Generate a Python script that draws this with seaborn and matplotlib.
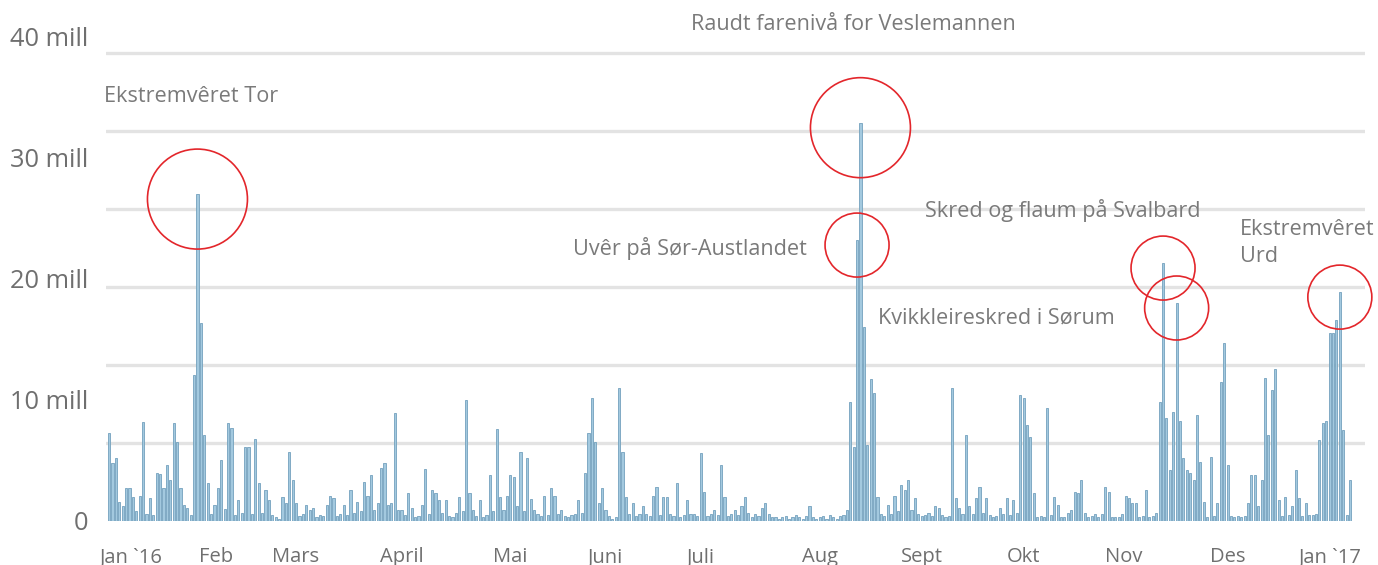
import numpy as np
import pandas as pd
import seaborn as sns
import matplotlib.pyplot as plt

# daily views in million, one bar per day from 1 Jan 2016
daily_views = [
    7.3, 4.8, 5.2, 1.6, 1.2, 2.7, 2.7, 2.0, 0.8, 2.1,      # 0
    8.2, 0.6, 1.9, 0.5, 4.0, 3.9, 2.7, 4.6, 3.4, 8.1,      # 10
    6.5, 2.7, 1.3, 1.1, 0.5, 12.1, 27.0, 16.4, 7.1, 3.1,   # 20
    0.6, 1.3, 2.7, 5.0, 1.0, 8.1, 7.7, 0.5, 1.7, 0.7,      # 30
    6.1, 6.1, 0.6, 6.8, 3.1, 0.7, 2.6, 1.7, 0.5, 0.3,      # 40
    0.2, 2.0, 1.5, 5.7, 3.4, 1.5, 0.4, 0.6, 1.3, 0.9,      # 50
    1.1, 0.3, 0.5, 0.4, 1.3, 2.1, 1.9, 0.4, 0.6, 1.3,      # 60
    0.5, 2.6, 0.7, 1.6, 0.8, 3.2, 2.1, 3.8, 0.9, 1.5,      # 70
    4.4, 4.8, 1.3, 1.5, 8.9, 0.9, 0.9, 0.5, 2.3, 1.1,      # 80
    0.3, 0.4, 1.3, 4.3, 0.6, 2.6, 2.3, 1.7, 0.7, 1.7,      # 90
    0.4, 0.3, 0.7, 2.0, 0.8, 10.0, 2.3, 0.9, 0.4, 1.7,     # 100
    0.3, 0.5, 3.8, 0.8, 7.6, 2.0, 0.9, 2.1, 3.8, 3.6,      # 110
    1.2, 5.7, 0.8, 5.2, 1.8, 0.9, 0.6, 0.4, 2.1, 0.5,      # 120
    2.7, 2.1, 0.6, 0.9, 0.4, 0.3, 0.5, 0.6, 1.7, 0.7,      # 130
    4.0, 7.3, 10.2, 6.5, 1.5, 2.7, 0.9, 0.4, 0.2, 0.3,     # 140
    11.0, 5.7, 2.0, 0.6, 1.5, 0.4, 0.6, 1.2, 0.6, 0.4,     # 150
    2.1, 2.8, 0.5, 2.0, 2.0, 0.6, 0.4, 3.1, 0.3, 0.5,      # 160
    1.7, 0.6, 0.6, 0.4, 5.6, 2.4, 0.4, 0.6, 0.9, 0.5,      # 170
    4.6, 2.0, 0.4, 0.6, 0.9, 0.5, 1.2, 2.0, 0.7, 0.3,      # 180
    0.6, 0.4, 1.1, 1.5, 0.6, 0.3, 0.3, 0.2, 0.3, 0.4,      # 190
    0.2, 0.3, 0.5, 0.3, 0.2, 0.4, 1.2, 0.3, 0.2, 0.3,      # 200
    0.4, 0.2, 0.5, 0.3, 0.2, 0.4, 0.5, 0.9, 9.8, 6.1,      # 210
    23.2, 32.9, 16.0, 6.3, 11.7, 10.6, 2.0, 0.6, 0.4, 1.3, # 220
    0.6, 2.1, 0.8, 3.0, 2.6, 3.4, 0.9, 1.9, 0.6, 0.4,      # 230
    0.5, 0.7, 0.4, 1.2, 1.1, 0.5, 0.3, 0.4, 11.0, 1.9,     # 240
    1.1, 0.6, 7.1, 1.2, 0.6, 1.9, 2.8, 0.7, 1.9, 0.5,      # 250
    0.3, 0.4, 1.1, 0.6, 1.9, 0.5, 1.7, 0.7, 10.4, 10.2,    # 260
    7.9, 6.9, 2.3, 0.3, 0.4, 0.3, 9.3, 0.5, 2.0, 1.3,      # 270
    0.3, 0.3, 0.7, 0.9, 2.4, 2.3, 3.4, 0.7, 0.3, 0.4,      # 280
    0.6, 0.3, 0.6, 2.8, 2.4, 0.3, 0.3, 0.3, 0.6, 2.1,      # 290
    1.9, 1.5, 1.5, 0.3, 0.4, 2.6, 0.3, 0.4, 0.7, 9.8,      # 300
    21.3, 8.5, 4.2, 9.0, 18.0, 8.3, 5.2, 4.2, 4.0, 3.4,    # 310
    8.8, 4.9, 1.6, 0.3, 5.3, 0.4, 1.5, 11.5, 14.7, 4.6,    # 320
    0.4, 0.3, 0.4, 0.3, 0.4, 1.5, 3.8, 3.8, 1.2, 3.4,      # 330
    11.8, 7.1, 10.8, 12.6, 1.7, 0.4, 2.0, 0.5, 1.2, 4.2,   # 340
    1.9, 0.4, 1.5, 0.5, 0.5, 0.6, 6.7, 8.1, 8.3, 15.5,     # 350
    15.5, 16.6, 18.9, 7.5, 0.5, 3.4,                       # 360
]

month_labels = ["Jan `16", "Feb", "Mars", "April", "Mai", "Juni", "Juli",
                "Aug", "Sept", "Okt", "Nov", "Des", "Jan `17"]
month_pos = [6.5, 31.5, 55, 86, 118, 146, 174, 209, 239, 269, 298.5, 329, 359]

y_ticks = [0, 10, 20, 30, 40]
y_labels = ["0", "10 mill", "20 mill", "30 mill", "40 mill"]

# days that got a red ring
event_days = [26, 221, 220, 310, 314, 362]
event_ring = [100, 100, 64, 64, 64, 64]   # ring diameter, px

df = pd.DataFrame({"day": range(len(daily_views)), "views": daily_views})

sns.set_style("white")
plt.rcParams["font.family"] = ["Open Sans", "DejaVu Sans"]

W, H = 1378, 565
fig = plt.figure(figsize=(W / 100, H / 100), dpi=100)
ax = fig.add_axes([106 / W, 44 / H, 1259 / W, 521 / H])

# pale grid, not tied to the labels (as in the original)
for g in np.arange(1, 7) * 6.45:
    ax.axhline(g, color="#e3e3e3", lw=2.4, zorder=0)

sns.barplot(data=df, x="day", y="views", color="#a3c9df", saturation=1,
            width=0.62, edgecolor="#73a1bd", linewidth=0.6, ax=ax, zorder=2)

# red rings round the big days
ring_y = [daily_views[d] - 0.4 for d in event_days]
ring_s = [(d * 0.72) ** 2 for d in event_ring]
ax.scatter(event_days, ring_y, s=ring_s, facecolors="none", edgecolors="#e3262b",
           linewidths=1.2, zorder=5, clip_on=False)

ax.set_xlim(-0.9, 369.4)
ax.set_ylim(0, 43.05)
ax.set_xticks(month_pos)
ax.set_xticklabels(month_labels)
ax.set_yticks(y_ticks)
ax.set_yticklabels(y_labels)
ax.tick_params(axis="x", length=0, pad=19, labelsize=14.5, labelcolor="#6f6f6f")
ax.tick_params(axis="y", length=0, pad=13, labelsize=18.3, labelcolor="#6f6f6f")
ax.set_xlabel("")
ax.set_ylabel("")
sns.despine(ax=ax, left=True, bottom=True)

txt = dict(color="#7a7a7a", fontsize=15.6, va="center", ha="left")
fig.text(691 / W, 1 - 24 / H, "Raudt farenivå for Veslemannen", **txt)
fig.text(104 / W, 1 - 97 / H, "Ekstremvêret Tor", **txt)
fig.text(573 / W, 1 - 248 / H, "Uvêr på Sør-Austlandet", **txt)
fig.text(925 / W, 1 - 211 / H, "Skred og flaum på Svalbard", **txt)
fig.text(878 / W, 1 - 318 / H, "Kvikkleireskred i Sørum", **txt)
fig.text(1240 / W, 1 - 243 / H, "Ekstremvêret\nUrd", linespacing=1.4, **txt)

fig.savefig("out.png", dpi=100)
